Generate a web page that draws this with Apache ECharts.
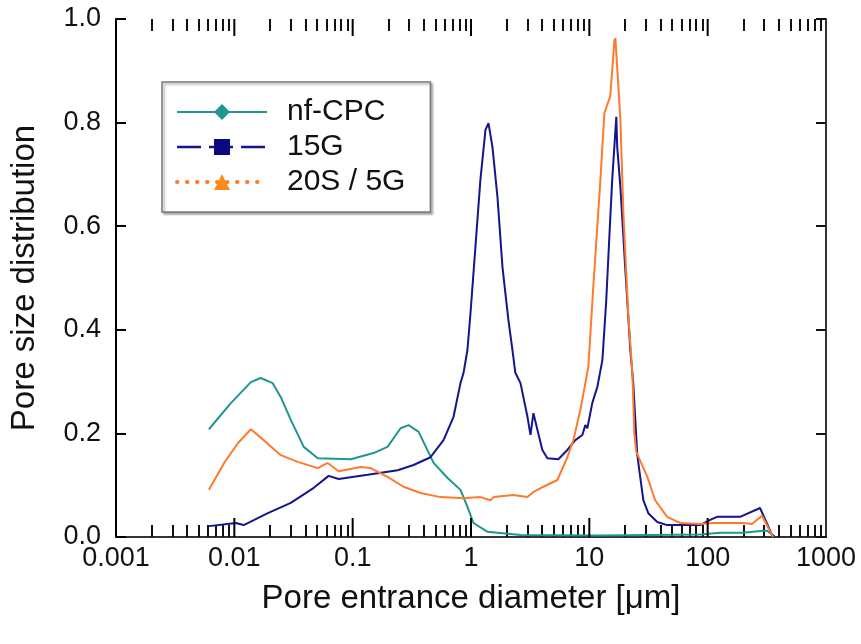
<!DOCTYPE html>
<html>
<head>
<meta charset="utf-8">
<script src="https://cdn.jsdelivr.net/npm/echarts@6/dist/echarts.min.js"></script>
<style>
  html, body { margin: 0; padding: 0; background: #fff; }
  #chart { width: 861px; height: 644px; }
</style>
</head>
<body>
<div id="chart"></div>
<script>
// Pore size distribution curves: [pore entrance diameter (µm), distribution]
const nfCPC = [
  [0.0061, 0.208], [0.0093, 0.258], [0.0138, 0.299], [0.0167, 0.307], [0.0211, 0.297],
  [0.0247, 0.270], [0.030, 0.226], [0.0386, 0.174], [0.0507, 0.152], [0.0966, 0.150],
  [0.150, 0.162], [0.197, 0.174], [0.254, 0.210], [0.297, 0.216], [0.361, 0.203],
  [0.483, 0.143], [0.634, 0.114], [0.815, 0.091], [0.933, 0.058], [1.05, 0.027],
  [1.38, 0.010], [2.62, 0.004], [12.4, 0.003], [86.5, 0.005], [127, 0.008],
  [199, 0.008], [294, 0.012], [318, 0.012], [371, 0.0]
];

const g15 = [
  [0.0061, 0.021], [0.0103, 0.027], [0.012, 0.023], [0.0192, 0.046], [0.030, 0.066],
  [0.0469, 0.095], [0.0627, 0.118], [0.0762, 0.112], [0.134, 0.120], [0.24, 0.129],
  [0.327, 0.139], [0.455, 0.154], [0.586, 0.187], [0.712, 0.232], [0.815, 0.297],
  [0.865, 0.317], [0.933, 0.361], [0.99, 0.432], [1.09, 0.560], [1.20, 0.689],
  [1.325, 0.786], [1.405, 0.799], [1.518, 0.753], [1.674, 0.656], [1.845, 0.521],
  [2.07, 0.419], [2.24, 0.361], [2.37, 0.317], [2.62, 0.297], [3.0, 0.232],
  [3.18, 0.197], [3.37, 0.239], [3.64, 0.207], [4.01, 0.168], [4.42, 0.152],
  [5.47, 0.150], [6.52, 0.168], [7.62, 0.187], [8.73, 0.197], [9.25, 0.216],
  [9.62, 0.210], [10.6, 0.259], [11.7, 0.290], [12.9, 0.342], [13.9, 0.457],
  [15.0, 0.612], [15.6, 0.689], [16.9, 0.811], [17.2, 0.753], [18.3, 0.676],
  [20.1, 0.520], [22.2, 0.361], [23.5, 0.297], [25.4, 0.160], [26.9, 0.116],
  [28.6, 0.071], [31.5, 0.046], [37.5, 0.029], [45.5, 0.023], [86.5, 0.023],
  [105, 0.033], [120, 0.039], [188, 0.039], [277, 0.056], [350, 0.004], [371, 0.0]
];

const s20g5 = [
  [0.0061, 0.091], [0.0082, 0.143], [0.0107, 0.181], [0.0138, 0.208], [0.0177, 0.187],
  [0.0247, 0.158], [0.0343, 0.145], [0.0507, 0.133], [0.0615, 0.143], [0.0762, 0.127],
  [0.117, 0.135], [0.142, 0.133], [0.197, 0.116], [0.269, 0.097], [0.375, 0.085],
  [0.553, 0.077], [0.865, 0.075], [1.20, 0.077], [1.46, 0.071], [1.55, 0.077],
  [2.28, 0.081], [3.0, 0.077], [3.37, 0.087], [4.09, 0.097], [5.37, 0.110],
  [6.52, 0.154], [7.33, 0.187], [8.39, 0.245], [9.25, 0.297], [9.82, 0.330],
  [10.8, 0.483], [12.4, 0.689], [13.4, 0.818], [14.2, 0.835], [15.0, 0.850],
  [15.6, 0.900], [16.3, 0.959], [16.6, 0.963], [17.6, 0.869], [18.3, 0.805],
  [19.4, 0.625], [21.3, 0.432], [23.1, 0.317], [24.0, 0.200], [24.9, 0.165],
  [30.9, 0.116], [36.0, 0.071], [45.5, 0.039], [58.6, 0.027], [86.5, 0.025],
  [111, 0.027], [199, 0.027], [237, 0.025], [288, 0.041], [357, 0.0]
];

// Axis ticks and labels
const xMajorTicks = [0.01, 0.1, 1, 10, 100];
const xTickLabels = ['0.001', '0.01', '0.1', '1', '10', '100', '1000'];
const xMinorTicks = [
  0.002, 0.003, 0.004, 0.005, 0.006, 0.007, 0.008, 0.009,
  0.02, 0.03, 0.04, 0.05, 0.06, 0.07, 0.08, 0.09,
  0.2, 0.3, 0.4, 0.5, 0.6, 0.7, 0.8, 0.9,
  2, 3, 4, 5, 6, 7, 8, 9,
  20, 30, 40, 50, 60, 70, 80, 90,
  200, 300, 400, 500, 600, 700, 800, 900
];

const seriesNames = ['nf-CPC', '15G', '20S / 5G'];
const colors = ['#1f9690', '#15158c', '#ff7a2e'];

const FONT = '"Liberation Sans", Arial, sans-serif';

// Extra log axes used only for minor tick marks and the top frame line
function tickAxis(position, minorValues, length, showLine) {
  return {
    type: 'log', logBase: 10, min: 0.001, max: 1000, splitNumber: 6, position: position,
    axisLine: { show: showLine, lineStyle: { color: '#333', width: 2 } },
    axisTick: { show: !!minorValues, inside: true, length: length, customValues: minorValues || undefined,
                lineStyle: { color: '#111', width: 2 } },
    axisLabel: { show: false },
    splitLine: { show: false },
    minorTick: { show: false }
  };
}

const chart = echarts.init(document.getElementById('chart'), null, { renderer: 'canvas' });

chart.setOption({
  animation: false,
  backgroundColor: '#fff',
  color: colors,
  grid: { left: 115, right: 35, top: 19, bottom: 107, containLabel: false },
  legend: {
    orient: 'vertical',
    left: 162, top: 82,
    padding: [14, 25, 14, 13],
    itemWidth: 90, itemHeight: 20, itemGap: 3,
    backgroundColor: '#fff',
    borderColor: '#777', borderWidth: 1.5,
    shadowColor: 'rgba(0,0,0,0.3)', shadowBlur: 2, shadowOffsetX: 2, shadowOffsetY: 2,
    selectedMode: false,
    textStyle: { fontFamily: FONT, fontSize: 30, lineHeight: 32, color: '#111', padding: [0, 0, 0, 15] },
    data: [
      { name: seriesNames[0], lineStyle: { type: 'solid', width: 2 } },
      { name: seriesNames[1], lineStyle: { type: [24, 8], width: 2.5 } },
      { name: seriesNames[2], lineStyle: { type: [0.5, 9.5], width: 4, cap: 'round' } }
    ]
  },
  xAxis: [
    {
      type: 'log', logBase: 10, min: 0.001, max: 1000, splitNumber: 6, position: 'bottom',
      name: 'Pore entrance diameter [μm]', nameLocation: 'middle', nameGap: 45,
      nameTextStyle: { fontFamily: FONT, fontSize: 33, color: '#111' },
      axisLine: { show: true, onZero: false, lineStyle: { color: '#000', width: 2 } },
      axisTick: { show: false },
      axisLabel: {
        fontFamily: FONT, fontSize: 27, color: '#111', margin: 8,
        formatter: function (v) {
          const i = Math.round(Math.log10(v)) + 3;
          return xTickLabels[i];
        }
      },
      splitLine: { show: false }
    },
    tickAxis('bottom', xMinorTicks, 12, false),
    tickAxis('top', null, 18, true),
    tickAxis('top', xMinorTicks, 12, false)
  ],
  yAxis: [
    {
      type: 'value', min: 0, max: 1, interval: 0.2, position: 'left',
      name: 'Pore size distribution', nameLocation: 'middle', nameGap: 75,
      nameTextStyle: { fontFamily: FONT, fontSize: 33, color: '#111' },
      axisLine: { show: true, onZero: false, lineStyle: { color: '#000', width: 2 } },
      axisTick: { show: true, inside: true, length: 10, lineStyle: { color: '#000', width: 2 } },
      axisLabel: {
        fontFamily: FONT, fontSize: 27, color: '#111', margin: 15,
        formatter: function (v) { return v.toFixed(1); }
      },
      splitLine: { show: false }
    },
    {
      type: 'value', min: 0, max: 1, interval: 0.2, position: 'right',
      axisLine: { show: true, onZero: false, lineStyle: { color: '#333', width: 2 } },
      axisTick: { show: true, inside: true, length: 10, lineStyle: { color: '#111', width: 2 } },
      axisLabel: { show: false },
      splitLine: { show: false }
    }
  ],
  series: [
    { name: seriesNames[0], type: 'line', data: nfCPC, symbol: 'diamond', showSymbol: false,
      lineStyle: { width: 2, color: colors[0] }, itemStyle: { color: colors[0] },
      emphasis: { disabled: true }, silent: true },
    { name: seriesNames[1], type: 'line', data: g15, symbol: 'rect', showSymbol: false,
      lineStyle: { width: 2, color: colors[1] }, itemStyle: { color: '#0a0a80' },
      emphasis: { disabled: true }, silent: true },
    { name: seriesNames[2], type: 'line', data: s20g5, symbol: 'triangle', showSymbol: false,
      lineStyle: { width: 2, color: colors[2] }, itemStyle: { color: '#ff8a1a' },
      emphasis: { disabled: true }, silent: true }
  ]
});

// Longer decade ticks on the bottom and top frame, positioned through the x scale
try {
  const decadeMarks = [];
  xMajorTicks.forEach(function (v) {
    const b = chart.convertToPixel({ xAxisIndex: 0, yAxisIndex: 0 }, [v, 0]);
    const t = chart.convertToPixel({ xAxisIndex: 0, yAxisIndex: 0 }, [v, 1]);
    if (!b || !t || !isFinite(b[0])) return;
    decadeMarks.push({
      type: 'line', z: 100, silent: true,
      shape: { x1: b[0], y1: b[1], x2: b[0], y2: b[1] - 19 },
      style: { stroke: '#000', lineWidth: 2 }
    });
    decadeMarks.push({
      type: 'line', z: 100, silent: true,
      shape: { x1: t[0], y1: t[1], x2: t[0], y2: t[1] + 17 },
      style: { stroke: '#000', lineWidth: 2 }
    });
  });
  chart.setOption({ graphic: { elements: decadeMarks } });
} catch (e) {
  console.error(e);
}
</script>
</body>
</html>
